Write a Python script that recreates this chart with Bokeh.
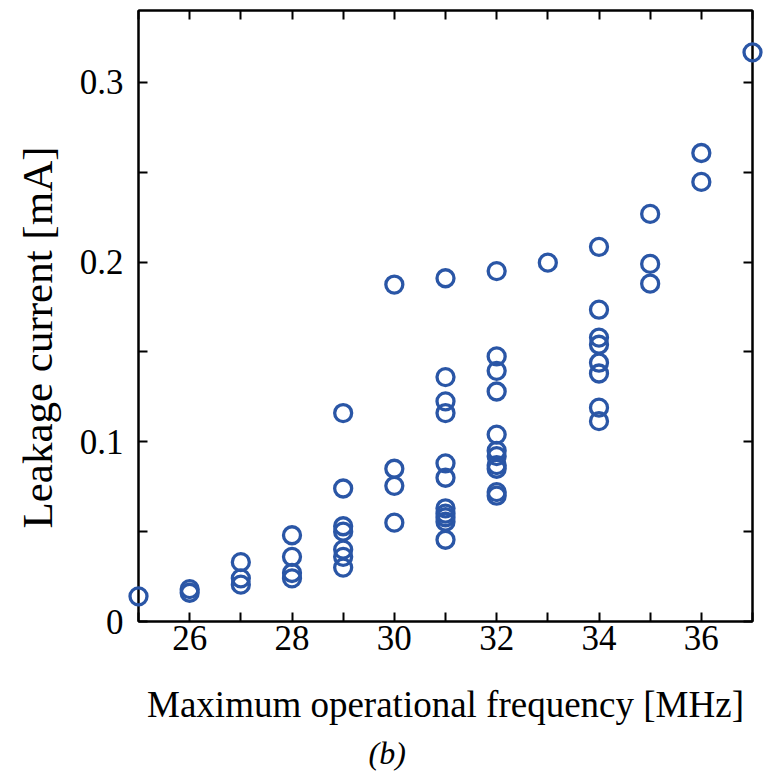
from bokeh.plotting import figure
from bokeh.models import LinearAxis, FixedTicker, Title, Range1d, ColumnDataSource
from bokeh.embed import file_html
from bokeh.resources import INLINE

# Data (frequency MHz, leakage current mA)
freq = [25,
        26, 26,
        27, 27, 27,
        28, 28, 28, 28,
        29, 29, 29, 29, 29, 29, 29,
        30, 30, 30, 30,
        31, 31, 31, 31, 31, 31, 31, 31, 31, 31, 31,
        32, 32, 32, 32, 32, 32, 32, 32, 32, 32, 32,
        33,
        34, 34, 34, 34, 34, 34, 34, 34,
        35, 35, 35,
        36, 36,
        37]
leak = [0.014,
        0.018, 0.016,
        0.033, 0.024, 0.0205,
        0.048, 0.036, 0.027, 0.024,
        0.116, 0.074, 0.053, 0.050, 0.040, 0.036, 0.030,
        0.1875, 0.085, 0.0755, 0.055,
        0.191, 0.136, 0.1225, 0.116, 0.088, 0.080, 0.063, 0.060, 0.058, 0.0555, 0.0455,
        0.195, 0.1475, 0.1395, 0.128, 0.104, 0.095, 0.092, 0.087, 0.085, 0.072, 0.070,
        0.1997,
        0.2085, 0.1735, 0.158, 0.154, 0.144, 0.138, 0.119, 0.1115,
        0.2268, 0.199, 0.188,
        0.2607, 0.2446,
        0.3167]

x_major = [26, 28, 30, 32, 34, 36]
x_minor = [25, 27, 29, 31, 33, 35, 37]
y_major = [0, 0.1, 0.2, 0.3]
y_minor = [0.05, 0.15, 0.25]
y_labels = {0: "0", 0.1: "0.1", 0.2: "0.2", 0.3: "0.3"}

FONT = "Liberation Serif"
BLUE = "#2a56a6"

p = figure(width=766, height=776, output_backend="svg", toolbar_location=None,
           x_range=Range1d(25, 37), y_range=Range1d(0, 0.34),
           min_border_left=138, min_border_right=14, min_border_top=10,
           min_border_bottom=14, x_axis_location=None, y_axis_location=None)
p.grid.visible = False
p.outline_line_color = "black"
p.outline_line_width = 2
p.background_fill_color = "white"
p.border_fill_color = "white"

def style_axis(ax, ticks, minor, labels=True):
    ax.ticker = FixedTicker(ticks=ticks, minor_ticks=minor)
    ax.axis_line_color = "black"
    ax.axis_line_width = 2
    ax.major_tick_in = 9
    ax.major_tick_out = 0
    ax.minor_tick_in = 9
    ax.minor_tick_out = 0
    ax.major_tick_line_width = 2
    ax.minor_tick_line_width = 2
    ax.major_tick_line_color = "black"
    ax.minor_tick_line_color = "black"
    if labels:
        ax.major_label_text_font = FONT
        ax.major_label_text_font_size = "35px"
        ax.major_label_text_color = "black"
    else:
        ax.major_label_overrides = {t: "" for t in ticks}
        ax.major_label_text_font_size = "1px"
        ax.major_label_standoff = 0

xb = LinearAxis(axis_label="Maximum operational frequency [MHz]")
style_axis(xb, x_major, x_minor)
xb.major_label_standoff = 4
xb.axis_label_text_font = FONT
xb.axis_label_text_font_size = "37px"
xb.axis_label_text_font_style = "normal"
xb.axis_label_text_color = "black"
xb.axis_label_standoff = 31
p.add_layout(xb, "below")

yl = LinearAxis()
style_axis(yl, y_major, y_minor)
yl.major_label_standoff = 15
yl.major_label_overrides = y_labels
p.add_layout(yl, "left")

ylab = Title(text="Leakage current [mA]", align="left", offset=93,
             vertical_align="top",
             text_font=FONT, text_font_style="normal", text_font_size="43px",
             text_color="black", standoff=27)
p.add_layout(ylab, "left")

xt = LinearAxis()
style_axis(xt, x_major, x_minor, labels=False)
p.add_layout(xt, "above")

yr = LinearAxis()
style_axis(yr, y_major, y_minor, labels=False)
p.add_layout(yr, "right")

cap = Title(text="(b)", align="left", offset=230, text_font=FONT,
            text_font_style="italic", text_font_size="32px",
            text_color="black", standoff=11)
p.add_layout(cap, "below")

src = ColumnDataSource(data=dict(x=freq, y=leak))
r = p.scatter("x", "y", source=src, marker="circle", size=17,
              fill_color=None, line_color=BLUE, line_width=3.3)
r.level = "overlay"

open("out.html", "w").write(file_html(p, INLINE))
